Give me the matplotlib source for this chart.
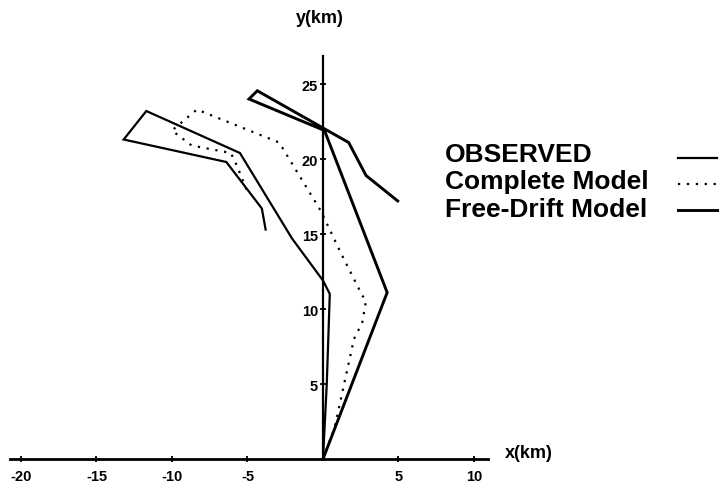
import matplotlib
matplotlib.use("Agg")
import matplotlib.pyplot as plt

# track of each series, x and y in km
obs_x = [0, 0.25, 0.45, 0.0, -2.05, -5.5, -11.7, -13.2, -6.4, -4.05, -3.8]
obs_y = [0, 5.0, 11.0, 11.9, 14.7, 20.4, 23.2, 21.3, 19.8, 16.7, 15.3]

complete_x = [0, 0.75, 2.05, 2.6, 2.85, 2.6, 1.2, -0.15, -2.9, -8.35, -10.0, -8.7, -6.1, -5.7, -5.0]
complete_y = [0, 2.0, 8.0, 9.1, 10.55, 10.9, 13.7, 16.55, 21.1, 23.3, 21.9, 20.9, 20.4, 19.55, 17.8]

free_x = [0, 4.25, 0.1, -4.9, -4.35, 1.7, 2.85, 4.95]
free_y = [0, 11.1, 21.9, 24.0, 24.55, 21.1, 18.9, 17.2]

xticks = [-20, -15, -10, -5, 5, 10]
yticks = [5, 10, 15, 20, 25]

labels = ["OBSERVED", "Complete Model", "Free-Drift Model"]

plt.rcParams['font.family'] = ['Liberation Sans', 'DejaVu Sans']

fig = plt.figure(figsize=(7.23, 4.89), dpi=100)
ax = fig.add_axes([0, 0, 1, 1])
ax.set_xlim(-21.39, 26.49)
ax.set_ylim(-1.933, 30.667)

styles = [dict(color='black', lw=1.6, ls='-'),
          dict(color='black', lw=1.6, ls=(0, (1.0, 3.0))),
          dict(color='black', lw=2.1, ls='-')]

ax.plot(obs_x, obs_y, solid_joinstyle='miter', **styles[0])
ax.plot(complete_x, complete_y, **styles[1])
ax.plot(free_x, free_y, solid_joinstyle='miter', **styles[2])

# axes through the origin
for s in ['top', 'right']:
    ax.spines[s].set_visible(False)
ax.spines['left'].set_position(('data', 0))
ax.spines['bottom'].set_position(('data', 0))
ax.spines['left'].set_bounds(0, 26.9)
ax.spines['bottom'].set_bounds(-20.7, 10.9)
ax.spines['left'].set_linewidth(1.6)
ax.spines['bottom'].set_linewidth(2.0)

ax.set_xticks(xticks)
ax.set_xticklabels(['-' + str(-t) if t < 0 else str(t) for t in xticks],
                   fontsize=10.5, fontweight='bold')
ax.set_yticks(yticks)
ax.set_yticklabels([str(t) for t in yticks], fontsize=10.5, fontweight='bold')
ax.tick_params(axis='x', direction='inout', length=5, width=1.3, pad=5)
ax.tick_params(axis='y', direction='inout', length=5, width=1.3, pad=1)

ax.text(0.698, 0.0736, "x(km)", transform=ax.transAxes, fontsize=13,
        fontweight='bold', ha='left', va='center')
ax.text(0.443, 0.963, "y(km)", transform=ax.transAxes, fontsize=13,
        fontweight='bold', ha='center', va='center')

# legend drawn by hand: text left, sample line right
text_y = [0.683, 0.628, 0.571]
line_y = [0.675, 0.622, 0.569]
for lab, ty, ly, st in zip(labels, text_y, line_y, styles):
    ax.text(0.6155, ty, lab, transform=ax.transAxes, fontsize=19,
            fontweight='bold', ha='left', va='center')
    ax.plot([0.938, 0.992], [ly, ly], transform=ax.transAxes, **st)

fig.savefig("out.png", dpi=100)
